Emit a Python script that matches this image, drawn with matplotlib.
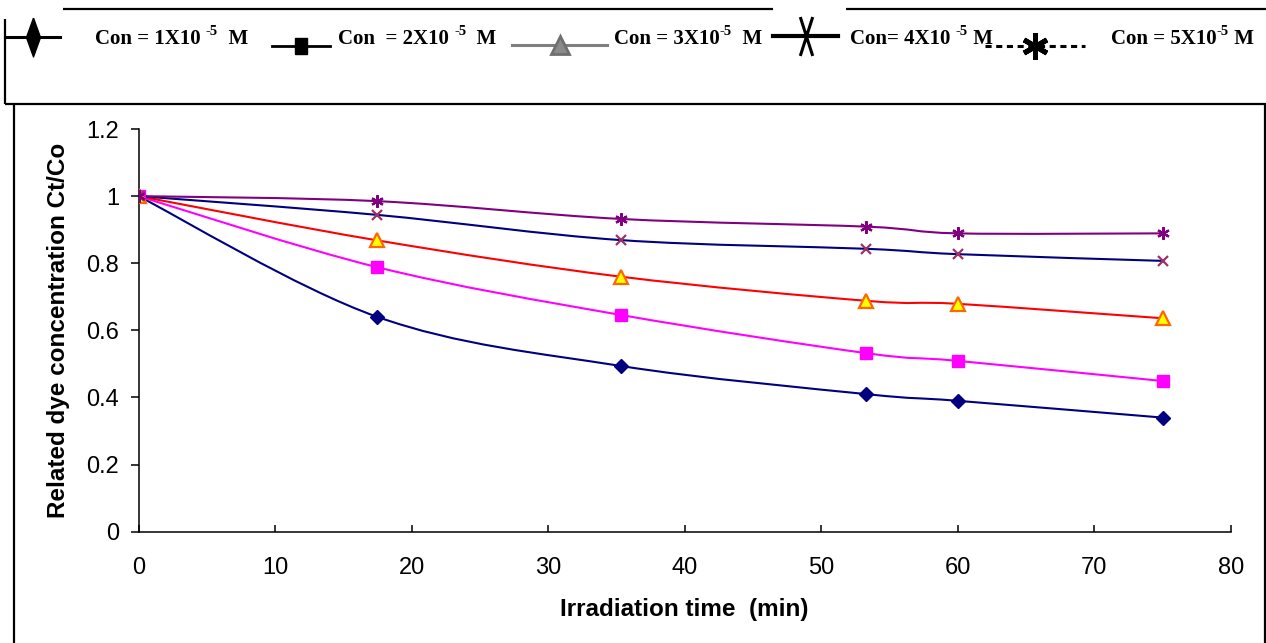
import numpy as np
import matplotlib
matplotlib.use("Agg")
import matplotlib.pyplot as plt
from matplotlib.path import Path
from matplotlib.patches import PathPatch
from matplotlib.lines import Line2D
from matplotlib.ticker import FuncFormatter

# ---- data -------------------------------------------------------------
time_min = [0, 17.5, 35.3, 53.3, 60, 75]

conc_1e5 = [1.0, 0.64, 0.494, 0.41, 0.39, 0.34]
conc_2e5 = [1.0, 0.788, 0.646, 0.532, 0.509, 0.449]
conc_3e5 = [1.0, 0.868, 0.76, 0.688, 0.679, 0.636]
conc_4e5 = [1.0, 0.944, 0.869, 0.843, 0.827, 0.807]
conc_5e5 = [1.0, 0.985, 0.932, 0.909, 0.889, 0.889]

# legend labels split into (text, superscript, text)
legend_labels = [
    ("Con = 1X10 ", "-5", "  M"),
    ("Con  = 2X10 ", "-5", "  M"),
    ("Con = 3X10", "-5", "  M"),
    ("Con= 4X10 ", "-5", " M"),
    ("Con = 5X10", "-5", " M"),
]

x_ticks = [0, 10, 20, 30, 40, 50, 60, 70, 80]
y_ticks = [0, 0.2, 0.4, 0.6, 0.8, 1.0, 1.2]

# ---- styling ----------------------------------------------------------
plt.rcParams["font.family"] = ["Liberation Sans", "DejaVu Sans"]

W, H = 1266, 643
fig = plt.figure(figsize=(W / 100, H / 100), dpi=100)


def fx(px):
    return px / W


def fy(py):
    return 1 - py / H


def smooth_path(xs, ys):
    """Cubic Bezier path through the points (Excel-style smoothed line)."""
    pts = np.column_stack([xs, ys]).astype(float)
    n = len(pts)
    verts = [pts[0]]
    codes = [Path.MOVETO]
    for i in range(n - 1):
        p0 = pts[i - 1] if i > 0 else pts[i]
        p1 = pts[i]
        p2 = pts[i + 1]
        p3 = pts[i + 2] if i + 2 < n else pts[i + 1]
        c1 = p1 + (p2 - p0) / 6.0
        c2 = p2 - (p3 - p1) / 6.0
        verts += [c1, c2, p2]
        codes += [Path.CURVE4] * 3
    return Path(verts, codes)


ax_l, ax_r, ax_b, ax_t = 138.5, 1231, 531.7, 129
ax = fig.add_axes([fx(ax_l), fy(ax_b), (ax_r - ax_l) / W, (ax_b - ax_t) / H])

series = [
    (conc_1e5, "#000080", dict(marker="D", ms=7.5, mfc="#000080", mec="#000080")),
    (conc_2e5, "#FF00FF", dict(marker="s", ms=8, mfc="#FF00FF", mec="#FF00FF")),
    (conc_3e5, "#FF0000", dict(marker="^", ms=9.5, mfc="#FFFF00", mec="#FF6600", mew=1.6)),
    (conc_4e5, "#000080", dict(marker="x", ms=7.5, mfc="#993366", mec="#993366", mew=1.6)),
    (conc_5e5, "#800080", dict(marker=(6, 2, 0), ms=9, mfc="#800080", mec="#800080", mew=1.6)),
]

for vals, lc, mk in series:
    ax.add_patch(PathPatch(smooth_path(time_min, vals), fill=False,
                           edgecolor=lc, lw=1.5, zorder=2))
for vals, lc, mk in series:
    ax.plot(time_min, vals, linestyle="none", zorder=3, **mk)

ax.set_xlim(0, 80)
ax.set_ylim(0, 1.2)
ax.set_xticks(x_ticks)
ax.set_yticks(y_ticks)
ax.yaxis.set_major_formatter(FuncFormatter(lambda v, p: f"{v:g}"))
for s in ["top", "right"]:
    ax.spines[s].set_visible(False)
for s in ["left", "bottom"]:
    ax.spines[s].set_linewidth(1.1)
ax.tick_params(axis="y", direction="out", length=6, width=1.1, pad=8, labelsize=17)
ax.tick_params(axis="x", direction="in", length=5, width=1.1, pad=18, labelsize=17)

ax.set_xlabel("Irradiation time  (min)", fontsize=17.5, fontweight="bold", labelpad=14)
ax.set_ylabel("Related dye concentration Ct/Co", fontsize=17.5, fontweight="bold", labelpad=12)

# ---- frames -----------------------------------------------------------
def frame_line(xs, ys, lw=1.6):
    fig.add_artist(Line2D([fx(v) for v in xs], [fy(v) for v in ys],
                          color="black", lw=lw, transform=fig.transFigure,
                          solid_capstyle="butt"))

# legend box
frame_line([5, 5], [19, 104])
frame_line([63, 773], [9, 9])
frame_line([846, 1266], [9, 9])
frame_line([5, 1266], [104, 104])
# chart frame
frame_line([14, 14], [104, 643])
frame_line([1264.5, 1264.5], [104, 643])

# ---- legend -----------------------------------------------------------
renderer = fig.canvas.get_renderer()
text_x = [95, 338, 614, 850, 1111]
base_y = 44
for tx, (pre, sup, post) in zip(text_x, legend_labels):
    x = tx
    for piece, size, dy in [(pre, 15, 0), (sup, 10.5, -9), (post, 15, 0)]:
        t = fig.text(fx(x), fy(base_y + dy), piece, fontsize=size, fontweight="bold",
                     family="Liberation Serif", ha="left", va="baseline")
        bb = t.get_window_extent(renderer)
        x += bb.width

tall_diamond = [(0, 1), (0.36, 0), (0, -1), (-0.36, 0), (0, 1)]
tall_square = [(-0.38, -0.5), (0.38, -0.5), (0.38, 0.5), (-0.38, 0.5), (-0.38, -0.5)]
narrow_x = Path([(-0.32, 1), (0.32, -1), (0.32, 1), (-0.32, -1)],
                [Path.MOVETO, Path.LINETO, Path.MOVETO, Path.LINETO])

legend_keys = [
    dict(xs=(5, 60), y=37, color="black", ls="-", lw=2.2,
         marker=tall_diamond, ms=28, mfc="black", mec="black", mew=1),
    dict(xs=(272, 330), y=46, color="black", ls="-", lw=2.0,
         marker=tall_square, ms=11, mfc="black", mec="black", mew=1),
    dict(xs=(512, 607), y=45, color="#7f7f7f", ls="-", lw=2.2,
         marker="^", ms=13, mfc="#8a8a8a", mec="#6f6f6f", mew=2),
    dict(xs=(773, 838), y=36, color="black", ls="-", lw=3.0,
         marker=narrow_x, ms=28, mfc="black", mec="black", mew=2.2),
    dict(xs=(985, 1085), y=46, color="black", ls=(0, (2, 1.5)), lw=2.2,
         marker=(6, 2, 0), ms=19, mfc="black", mec="black", mew=3.6),
]
for k in legend_keys:
    x0, x1 = k["xs"]
    fig.add_artist(Line2D([fx(x0), fx(x1)], [fy(k["y"])] * 2,
                          color=k["color"], ls=k["ls"], lw=k["lw"],
                          transform=fig.transFigure))
    fig.add_artist(Line2D([fx((x0 + x1) / 2)], [fy(k["y"])], ls="none",
                          marker=k["marker"], ms=k["ms"], mfc=k["mfc"],
                          mec=k["mec"], mew=k["mew"], transform=fig.transFigure))

fig.savefig("out.png", dpi=100)
